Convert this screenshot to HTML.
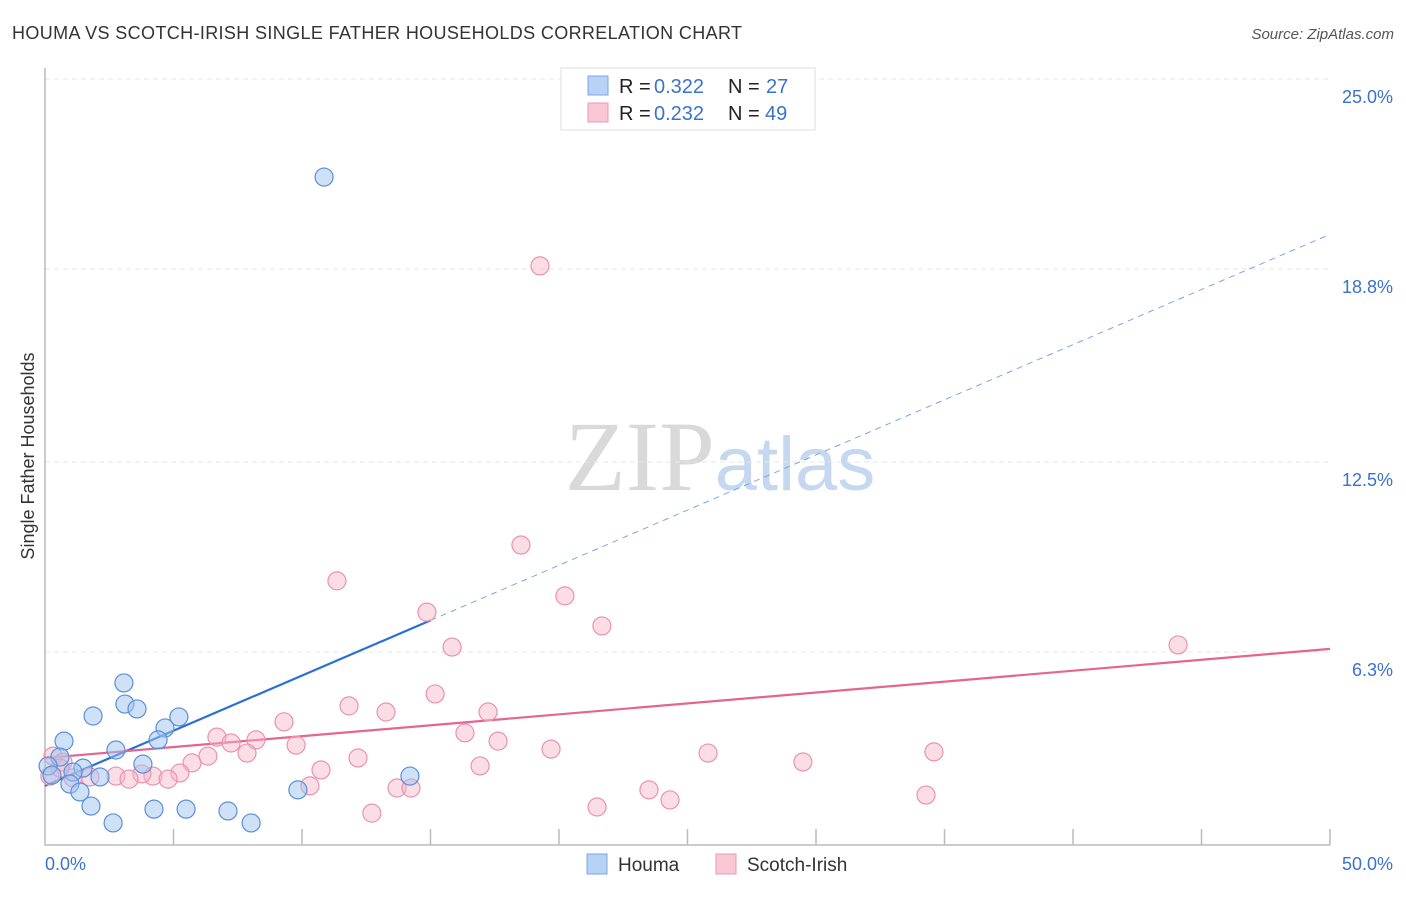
<!DOCTYPE html>
<html><head><meta charset="utf-8"><style>
body{margin:0;background:#fff;font-family:"Liberation Sans",sans-serif}
</style></head><body>
<svg id="c" width="1406" height="892" xmlns="http://www.w3.org/2000/svg" font-family="Liberation Sans, sans-serif">
<text x="12" y="39" font-size="18" fill="#333" textLength="730">HOUMA VS SCOTCH-IRISH SINGLE FATHER HOUSEHOLDS CORRELATION CHART</text>
<text x="1394" y="39" font-size="15" fill="#555" text-anchor="end" font-style="italic">Source: ZipAtlas.com</text>
<text x="720" y="490" font-size="100" text-anchor="middle"><tspan fill="#d9d9d9" font-family="Liberation Serif, serif">ZIP</tspan><tspan fill="#c5d8f0" font-size="76">atlas</tspan></text>
<text transform="translate(34,456) rotate(-90)" font-size="18" fill="#333" text-anchor="middle">Single Father Households</text>
<g id="grid"></g><g id="axes"></g><g id="lines"></g><g id="pts"></g>
<g font-size="20">
<rect x="561" y="68" width="254" height="62" fill="#fff" stroke="#ddd"/>
<rect x="588" y="76" width="20" height="19" fill="#b8d2f5" stroke="#7aa6e0"/>
<rect x="588" y="103" width="20" height="19" fill="#f9c6d5" stroke="#ec9ab4"/>
<text x="619" y="93" fill="#222">R =</text><text x="654" y="93" fill="#3a72cc">0.322</text>
<text x="728" y="93" fill="#222">N =</text><text x="766" y="93" fill="#3a72cc">27</text>
<text x="619" y="120" fill="#222">R =</text><text x="654" y="120" fill="#3a72cc">0.232</text>
<text x="728" y="120" fill="#222">N =</text><text x="765" y="120" fill="#3a72cc">49</text>
</g>
<g>
<rect x="587" y="854" width="20" height="20" fill="#b8d2f5" stroke="#7aa6e0"/>
<text x="618" y="871" font-size="19" fill="#333">Houma</text>
<rect x="716" y="854" width="20" height="20" fill="#f9c6d5" stroke="#ec9ab4"/>
<text x="747" y="871" font-size="19" fill="#333">Scotch-Irish</text>
</g>
</svg>
<script>
const yTicks=[25.0,18.8,12.5,6.3];
const yTickLabels=["25.0%","18.8%","12.5%","6.3%"];
const xTickLabels=["0.0%","50.0%"];
const houmaX=[10.86,3.07,3.11,3.58,1.87,5.21,4.67,0.74,4.40,2.76,0.58,3.81,0.12,1.48,1.09,2.14,0.97,1.36,1.79,4.24,5.49,7.12,2.65,8.02,9.84,14.20,0.27];
const houmaY=[21.80,5.29,4.60,4.44,4.21,4.18,3.82,3.39,3.43,3.10,2.87,2.64,2.58,2.51,2.38,2.22,1.99,1.73,1.27,1.17,1.17,1.11,0.72,0.72,1.80,2.25,2.28];
const scotX=[19.26,18.52,11.36,20.23,14.86,21.67,15.84,44.09,15.18,11.83,13.27,17.24,9.30,6.69,16.34,7.24,8.21,17.63,9.77,6.34,19.69,34.59,25.80,7.86,12.18,5.72,0.31,16.93,10.74,29.49,5.25,4.20,4.79,3.77,2.76,3.27,1.75,0.70,1.09,0.19,0.58,10.31,13.70,14.24,23.50,24.32,34.28,21.48,12.72];
const scotY=[18.90,9.79,8.62,8.13,7.60,7.15,6.46,6.53,4.93,4.54,4.34,4.34,4.02,3.52,3.66,3.33,3.43,3.39,3.26,2.90,3.13,3.04,3.00,3.00,2.84,2.68,2.90,2.58,2.45,2.71,2.35,2.25,2.15,2.32,2.25,2.15,2.22,2.71,2.19,2.25,2.51,1.93,1.86,1.86,1.80,1.47,1.63,1.24,1.04];
const houmaTrend=[1.93,19.93];
const scotTrend=[2.84,6.40];
const X=v=>45+v*25.7, Y=v=>845-v*30.64;
const NS="http://www.w3.org/2000/svg";
function mk(tag,at,parent){const e=document.createElementNS(NS,tag);for(const k in at)e.setAttribute(k,at[k]);document.getElementById(parent).appendChild(e);return e;}
yTicks.forEach((t,i)=>{
 const g=mk('line',{x1:45,x2:1330,y1:Y(t),y2:Y(t),stroke:'#e6e6e6','stroke-dasharray':'5,4'},'grid');
 
 
 const l=mk('text',{x:1393,y:Y(t)+24,'font-size':18,fill:'#3a72cc','text-anchor':'end'},'grid');
 
 
 l.textContent=yTickLabels[i];
});
const ax=mk('path',{d:'M45,68 V845 H1330',fill:'none',stroke:'#bbb','stroke-width':1.5},'axes');


for(let i=1;i<=10;i++){const t=mk('line',{x1:X(i*5),x2:X(i*5),y1:845,y2:829,stroke:'#bbb','stroke-width':1.5},'axes');
 
 }
[[0,'start',45],[50,'end',1393]].forEach((d,i)=>{const t=mk('text',{x:d[2],y:870,'font-size':18,fill:'#3a72cc','text-anchor':d[1]},'axes');
 
 
 t.textContent=xTickLabels[i];});
const hy=x=>houmaTrend[0]+(houmaTrend[1]-houmaTrend[0])*x/50;
const sy=x=>scotTrend[0]+(scotTrend[1]-scotTrend[0])*x/50;
let l1=mk('line',{x1:X(0),y1:Y(hy(0)),x2:X(15),y2:Y(hy(15)),stroke:'#2a6fd6','stroke-width':2.2},'lines');


let l2=mk('line',{x1:X(15),y1:Y(hy(15)),x2:X(50),y2:Y(hy(50)),stroke:'#7aa6e0','stroke-width':1,'stroke-dasharray':'6,5'},'lines');


let l3=mk('line',{x1:X(0),y1:Y(sy(0)),x2:X(50),y2:Y(sy(50)),stroke:'#e56592','stroke-width':2.2},'lines');


scotX.forEach((x,i)=>{const c=mk('circle',{cx:X(x),cy:Y(scotY[i]),r:9,fill:'rgba(246,180,200,0.45)',stroke:'#ea92af','stroke-width':1.2},'pts');
 
 });
houmaX.forEach((x,i)=>{const c=mk('circle',{cx:X(x),cy:Y(houmaY[i]),r:9,fill:'rgba(160,195,240,0.5)',stroke:'#5b8fd8','stroke-width':1.2},'pts');
 
 });
</script>
</body></html>
